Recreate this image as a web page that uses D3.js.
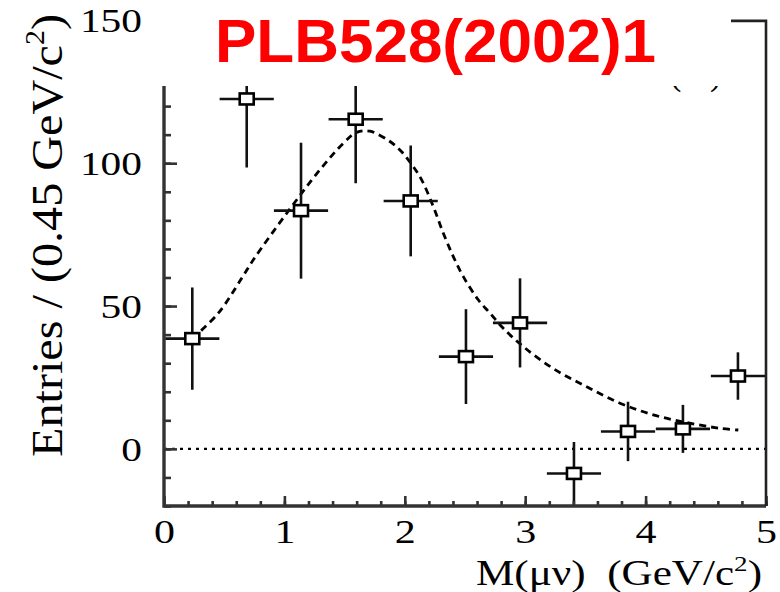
<!DOCTYPE html>
<html>
<head>
<meta charset="utf-8">
<script src="https://cdn.jsdelivr.net/npm/d3@7/dist/d3.min.js"></script>
<style>
  html, body { margin: 0; padding: 0; background: #fff; }
  svg { display: block; }
</style>
</head>
<body>
<svg id="chart" width="780" height="592"></svg>
<script>
// ---------------- data ----------------
const title = "PLB528(2002)1";
const massCenters = [0.235, 0.687, 1.138, 1.592, 2.049, 2.508, 2.957, 3.405, 3.854, 4.31, 4.767];
const entries     = [38.6, 122.5, 83.4, 115.4, 86.8, 32.3, 44.1, -8.6, 6.1, 7.0, 25.5];
const entryErrors = [17.9, 24.0, 23.8, 22.4, 19.4, 16.6, 15.6, 11.0, 10.4, 8.4, 8.3];
const binHalfWidth = 0.225;
const fitX = [0.235, 0.451, 0.645, 0.742, 1.03, 1.295, 1.49, 1.6, 1.71, 1.877, 1.974, 2.07, 2.14, 2.237, 2.32, 2.403, 2.486, 2.61, 2.708, 2.818, 2.984, 3.23, 3.507, 3.787, 4.064, 4.341, 4.618, 4.77];
const fitY = [38.6, 47.5, 59.7, 66.2, 83.1, 97.7, 107, 110.8, 111.2, 107.6, 104, 98.8, 94.2, 84.8, 75.5, 67.3, 60.3, 52.2, 47.5, 42.2, 35.8, 28.2, 21.8, 16, 11.9, 9.2, 7.2, 6.6];
const xMajorTicks = [0, 1, 2, 3, 4, 5];
const xMinorTicks = d3.range(0, 26).map(i => i / 5);
const yMajorTicks = [0, 50, 100, 150];
const yMinorTicks = d3.range(-20, 150, 10);
const xLabel = "M(\u03bc\u03bd)\u00a0\u00a0(GeV/c";
const yLabel = "Entries / (0.45 GeV/c";

// ---------------- layout ----------------
const svg = d3.select("#chart");
const L = 164, R = 766, B = 506, T = 20.4;
const x = d3.scaleLinear().domain([0, 5]).range([L, R]);
const y = d3.scaleLinear().domain([-20, 150]).range([B, T]);
const serif = "'Liberation Serif', 'Times New Roman', serif";
const axisColor = "#333";

svg.append("defs").append("clipPath").attr("id", "plotclip")
  .append("rect").attr("x", L).attr("y", T).attr("width", R - L).attr("height", B - T);

// zero dotted line
svg.append("line")
  .attr("x1", x(0)).attr("x2", x(5)).attr("y1", y(0)).attr("y2", y(0))
  .attr("stroke", "#000").attr("stroke-width", 2.2).attr("stroke-dasharray", "3,5");

const plot = svg.append("g").attr("clip-path", "url(#plotclip)");

// fit curve
const line = d3.line().x((d, i) => x(fitX[i])).y((d, i) => y(fitY[i])).curve(d3.curveCatmullRom.alpha(0.5));
plot.append("path").datum(fitX)
  .attr("d", line).attr("fill", "none").attr("stroke", "#000")
  .attr("stroke-width", 2.8).attr("stroke-dasharray", "7,5");

// error bars
const pts = massCenters.map((m, i) => ({ m, v: entries[i], e: entryErrors[i] }));
const eb = plot.append("g").attr("stroke", "#111").attr("stroke-width", 2.6);
eb.selectAll("line.v").data(pts).join("line").attr("class", "v")
  .attr("x1", d => x(d.m)).attr("x2", d => x(d.m))
  .attr("y1", d => y(d.v + d.e)).attr("y2", d => y(d.v - d.e));
eb.selectAll("line.h").data(pts).join("line").attr("class", "h")
  .attr("x1", d => x(d.m - binHalfWidth)).attr("x2", d => x(d.m + binHalfWidth))
  .attr("y1", d => y(d.v)).attr("y2", d => y(d.v));
// markers
plot.selectAll("rect.mk").data(pts).join("rect").attr("class", "mk")
  .attr("x", d => x(d.m) - 7).attr("y", d => y(d.v) - 5.5)
  .attr("width", 14).attr("height", 11)
  .attr("fill", "#fff").attr("stroke", "#000").attr("stroke-width", 2.6);

// axes (ticks inward)
const gx = svg.append("g").attr("transform", `translate(0,${B})`);
gx.append("g").call(d3.axisBottom(x).tickValues(xMinorTicks).tickSize(-5).tickFormat(""));
const gxMaj = gx.append("g").call(d3.axisBottom(x).tickValues(xMajorTicks).tickSize(-10).tickFormat(d3.format("d")));
const gy = svg.append("g").attr("transform", `translate(${L},0)`);
gy.append("g").call(d3.axisLeft(y).tickValues(yMinorTicks).tickSize(-7).tickFormat(""));
const gyMaj = gy.append("g").call(d3.axisLeft(y).tickValues(yMajorTicks).tickSize(-13).tickFormat(d3.format("d")));
[gx, gy].forEach(g => {
  g.selectAll(".domain").remove();
  g.selectAll(".tick line").attr("stroke", axisColor).attr("stroke-width", 2.6);
});
gxMaj.selectAll(".tick text")
  .attr("y", 37).attr("dy", 0)
  .attr("font-family", serif).attr("font-size", 34).attr("fill", "#000")
  .attr("textLength", function () { return 21 * this.textContent.length; })
  .attr("lengthAdjust", "spacingAndGlyphs");
gyMaj.selectAll(".tick text")
  .attr("x", -22).attr("dy", 11.5).attr("text-anchor", "end")
  .attr("font-family", serif).attr("font-size", 34).attr("fill", "#000")
  .attr("textLength", function () { return 20.7 * this.textContent.length; })
  .attr("lengthAdjust", "spacingAndGlyphs");

// frame
svg.append("path")
  .attr("d", `M${R},${B}H${L}V${T}`)
  .attr("fill", "none").attr("stroke", axisColor).attr("stroke-width", 3.4);
svg.append("path")
  .attr("d", `M${L},${y(150) + 0.5}H${R}V${B}`)
  .attr("fill", "none").attr("stroke", "#222").attr("stroke-width", 2.6);

// white title box covering the top of the plot
svg.append("rect").attr("x", 150).attr("y", 0).attr("width", 581).attr("height", 86).attr("fill", "#fff");

// remnant of a cut legend
svg.append("text").attr("x", 670).attr("y", 85).attr("font-family", serif).attr("font-size", 34).text("(");
svg.append("text").attr("x", 710).attr("y", 85).attr("font-family", serif).attr("font-size", 34).text(")");
svg.append("rect").attr("x", 600).attr("y", 0).attr("width", 131).attr("height", 86).attr("fill", "#fff");

// title
svg.append("text")
  .attr("x", 435.5).attr("y", 61.5).attr("text-anchor", "middle")
  .attr("font-family", "'Liberation Sans', Arial, sans-serif").attr("font-weight", "bold")
  .attr("font-size", 62).attr("fill", "#ff0000")
  .attr("textLength", 441).attr("lengthAdjust", "spacingAndGlyphs")
  .text(title);

// x label
const xt = svg.append("text")
  .attr("x", 762).attr("y", 585).attr("text-anchor", "end")
  .attr("font-family", serif).attr("font-size", 35).attr("fill", "#000")
  .attr("textLength", 286).attr("lengthAdjust", "spacingAndGlyphs");
xt.append("tspan").text(xLabel);
xt.append("tspan").attr("font-size", 22).attr("dy", -14).text("2");
xt.append("tspan").attr("dy", 14).text(")");

// y label
const yt = svg.append("text")
  .attr("transform", "translate(62,235.5) rotate(-90)")
  .attr("text-anchor", "middle")
  .attr("font-family", serif).attr("font-size", 45).attr("fill", "#000")
  .attr("textLength", 443).attr("lengthAdjust", "spacingAndGlyphs");
yt.append("tspan").text(yLabel);
yt.append("tspan").attr("font-size", 28).attr("dy", -18).text("2");
yt.append("tspan").attr("dy", 18).text(")");
</script>
</body>
</html>
